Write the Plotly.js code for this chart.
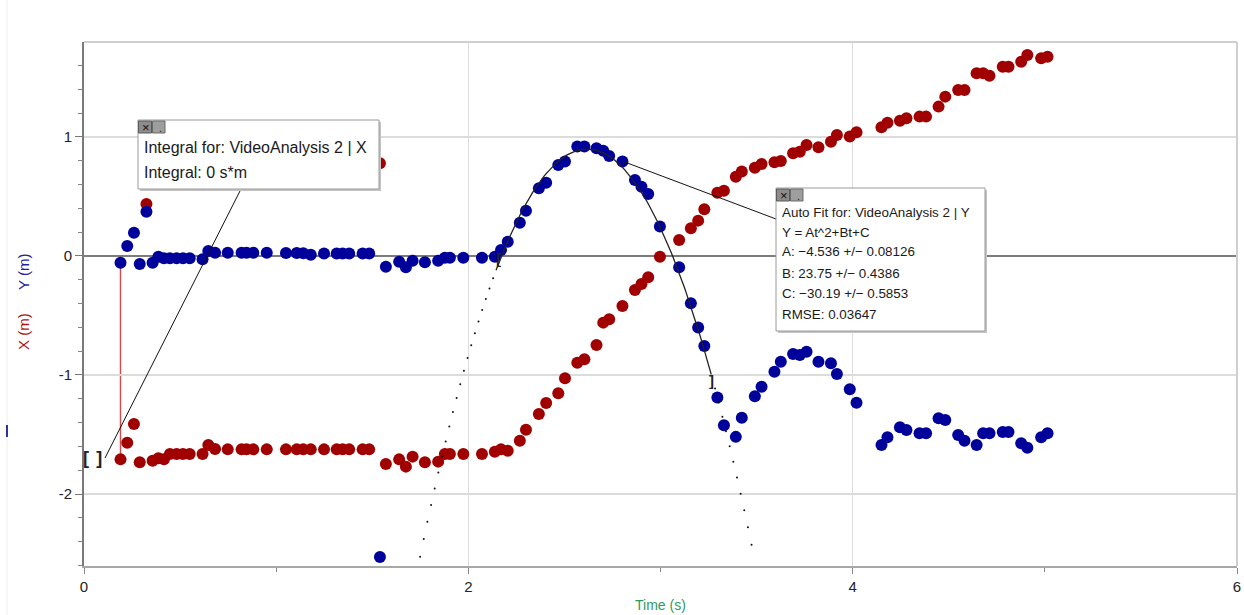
<!DOCTYPE html>
<html>
<head>
<meta charset="utf-8">
<script src="https://cdn.plot.ly/plotly-3.0.1.min.js"></script>
<style>
  html, body { margin: 0; padding: 0; background: #fff; }
  #chart { width: 1244px; height: 615px; }
</style>
</head>
<body>
<div id="chart"></div>
<script>
// ---- Data ----
const timeS = [0.19, 0.225, 0.26, 0.29, 0.325, 0.357, 0.387, 0.416, 0.447, 0.482, 0.515, 0.55, 0.617, 0.647, 0.682, 0.748, 0.82, 0.846, 0.881, 0.951, 1.051, 1.107, 1.141, 1.18, 1.249, 1.315, 1.346, 1.38, 1.45, 1.484, 1.54, 1.571, 1.64, 1.675, 1.71, 1.774, 1.843, 1.878, 1.904, 1.974, 2.071, 2.138, 2.17, 2.205, 2.268, 2.3, 2.367, 2.405, 2.468, 2.503, 2.567, 2.604, 2.667, 2.702, 2.733, 2.802, 2.867, 2.901, 2.936, 2.997, 3.097, 3.158, 3.196, 3.228, 3.296, 3.33, 3.392, 3.423, 3.491, 3.526, 3.593, 3.626, 3.69, 3.725, 3.76, 3.822, 3.887, 3.918, 3.985, 4.02, 4.15, 4.181, 4.246, 4.28, 4.348, 4.382, 4.447, 4.482, 4.549, 4.582, 4.645, 4.679, 4.712, 4.781, 4.811, 4.877, 4.909, 4.981, 5.014];

const xMeters = [-1.709, -1.569, -1.412, -1.734, 0.437, -1.72, -1.70, -1.709, -1.664, -1.664, -1.664, -1.664, -1.664, -1.588, -1.622, -1.625, -1.625, -1.625, -1.625, -1.625, -1.625, -1.625, -1.625, -1.625, -1.625, -1.625, -1.625, -1.625, -1.625, -1.625, 0.78, -1.748, -1.709, -1.77, -1.686, -1.734, -1.728, -1.664, -1.664, -1.664, -1.664, -1.645, -1.625, -1.636, -1.552, -1.46, -1.328, -1.236, -1.154, -1.028, -0.897, -0.868, -0.748, -0.56, -0.532, -0.42, -0.286, -0.235, -0.179, -0.006, 0.134, 0.233, 0.297, 0.392, 0.532, 0.549, 0.666, 0.709, 0.742, 0.773, 0.787, 0.798, 0.863, 0.876, 0.933, 0.913, 0.96, 1.017, 1.003, 1.04, 1.081, 1.12, 1.137, 1.157, 1.171, 1.171, 1.255, 1.339, 1.395, 1.395, 1.535, 1.535, 1.515, 1.591, 1.591, 1.633, 1.689, 1.661, 1.675];

const yMeters = [-0.056, 0.084, 0.196, -0.067, 0.372, -0.056, -0.006, -0.02, -0.02, -0.02, -0.02, -0.02, -0.028, 0.042, 0.028, 0.028, 0.028, 0.028, 0.028, 0.028, 0.025, 0.025, 0.022, 0.01, 0.02, 0.02, 0.02, 0.02, 0.02, 0.02, -2.53, -0.09, -0.048, -0.095, -0.04, -0.053, -0.04, -0.014, -0.014, -0.014, -0.014, -0.006, 0.05, 0.12, 0.28, 0.381, 0.569, 0.616, 0.765, 0.793, 0.919, 0.919, 0.905, 0.885, 0.84, 0.793, 0.639, 0.582, 0.521, 0.247, -0.095, -0.398, -0.6, -0.756, -1.19, -1.423, -1.52, -1.359, -1.179, -1.098, -0.972, -0.888, -0.824, -0.832, -0.804, -0.888, -0.902, -0.992, -1.12, -1.233, -1.588, -1.524, -1.44, -1.462, -1.49, -1.49, -1.364, -1.378, -1.504, -1.552, -1.588, -1.49, -1.49, -1.48, -1.48, -1.574, -1.611, -1.524, -1.49];

// Auto fit parameters (Y = At^2 + Bt + C) as printed in the chart
const fitA = -4.536, fitB = 23.75, fitC = -30.19;
const fitSolidRange = [2.144, 3.265];
const fitDottedRange = [1.749, 3.487];

const xTickVals = [0, 2, 4, 6];
const xTickText = ['0', '2', '4', '6'];
const yTickVals = [-2, -1, 0, 1];
const yTickText = ['-2', '-1', '0', '1'];

const boxIntegralLines = ['Integral for: VideoAnalysis 2 | X', 'Integral: 0 s*m'];
const boxFitLines = ['Auto Fit for: VideoAnalysis 2 | Y', 'Y = At^2+Bt+C', 'A: \u22124.536 +/\u2212 0.08126', 'B: 23.75 +/\u2212 0.4386', 'C: \u221230.19 +/\u2212 0.5853', 'RMSE: 0.03647'];

// ---- Layout geometry ----
const W = 1244, H = 615;
const L = 84, R = 1237, T = 42, B = 566;
const xRange = [0, 6];
const yRange = [-2.605, 1.798];
function dx(p) { return xRange[0] + (p - L) / (R - L) * (xRange[1] - xRange[0]); }
function dy(p) { return yRange[1] - (p - T) / (B - T) * (yRange[1] - yRange[0]); }
function pxp(p) { return (p - L) / (R - L); }
function pyp(p) { return (B - p) / (B - T); }
function fitY(t) { return fitA * t * t + fitB * t + fitC; }

// fit curve samples
const solidT = [], solidY = [];
for (let t = fitSolidRange[0]; t <= fitSolidRange[1] + 1e-9; t += 0.01) { solidT.push(t); solidY.push(fitY(t)); }
const dotT = [], dotY = [];
for (let t = fitDottedRange[0]; t < fitSolidRange[0]; t += 0.019) { dotT.push(t); dotY.push(fitY(t)); }
for (let t = fitSolidRange[1] + 0.019; t <= fitDottedRange[1] + 1e-9; t += 0.019) { dotT.push(t); dotY.push(fitY(t)); }

const RED = '#a00000', BLUE = '#00009a';
const textFont = 'Liberation Sans, Arial, sans-serif';

const traces = [
  { x: timeS, y: xMeters, mode: 'markers', type: 'scatter', name: 'X',
    marker: { color: RED, size: 12 }, hoverinfo: 'skip' },
  { x: timeS, y: yMeters, mode: 'markers', type: 'scatter', name: 'Y',
    marker: { color: BLUE, size: 12 }, hoverinfo: 'skip' },
  { x: dotT, y: dotY, mode: 'markers', type: 'scatter', name: 'fit ext',
    marker: { color: '#111', size: 2 }, hoverinfo: 'skip' },
  { x: solidT, y: solidY, mode: 'lines', type: 'scatter', name: 'fit',
    line: { color: '#222', width: 1.3 }, hoverinfo: 'skip' }
];

const shapes = [];
// top and right frame
shapes.push({ type: 'line', xref: 'paper', yref: 'paper', x0: 0, x1: 1, y0: 1, y1: 1, line: { color: '#cfcfcf', width: 2 } });
shapes.push({ type: 'line', xref: 'paper', yref: 'paper', x0: 1, x1: 1, y0: 0, y1: 1, line: { color: '#cfcfcf', width: 2 } });
// faint outer left border
shapes.push({ type: 'line', xref: 'paper', yref: 'paper', x0: pxp(7), x1: pxp(7), y0: pyp(0), y1: pyp(615), line: { color: '#eeeeee', width: 1 } });
// small blue mark at far left
shapes.push({ type: 'line', xref: 'paper', yref: 'paper', x0: pxp(7), x1: pxp(7), y0: pyp(425), y1: pyp(437), line: { color: '#3030a0', width: 2 } });
// integral line at first sample
shapes.push({ type: 'line', xref: 'x', yref: 'y', x0: timeS[0], x1: timeS[0], y0: 0, y1: xMeters[0], line: { color: '#c85050', width: 1.5 }, layer: 'below' });
// leader lines
shapes.push({ type: 'line', xref: 'x', yref: 'y', x0: dx(105), y0: dy(458), x1: dx(241), y1: dy(189), line: { color: '#111', width: 1 } });
shapes.push({ type: 'line', xref: 'x', yref: 'y', x0: dx(622), y0: dy(161), x1: dx(776), y1: dy(219), line: { color: '#111', width: 1 } });

function box(x0, y0, x1, y1) {
  shapes.push({ type: 'rect', xref: 'x', yref: 'y', x0: dx(x0 + 2), y0: dy(y0 + 2), x1: dx(x1 + 2), y1: dy(y1 + 2), fillcolor: '#c4c4c4', line: { width: 0 } });
  shapes.push({ type: 'rect', xref: 'x', yref: 'y', x0: dx(x0), y0: dy(y0), x1: dx(x1), y1: dy(y1), fillcolor: '#ffffff', line: { color: '#9a9a9a', width: 1 } });
  shapes.push({ type: 'rect', xref: 'x', yref: 'y', x0: dx(x0 + 0.5), y0: dy(y0 + 1), x1: dx(x0 + 13.5), y1: dy(y0 + 13), fillcolor: '#8c8c8c', line: { color: '#5a5a5a', width: 1 } });
  shapes.push({ type: 'rect', xref: 'x', yref: 'y', x0: dx(x0 + 14.5), y0: dy(y0 + 1), x1: dx(x0 + 27), y1: dy(y0 + 13), fillcolor: '#9e9e9e', line: { color: '#6a6a6a', width: 1 } });
}
box(138, 120, 379, 189);
box(776, 188, 985, 331);

const annotations = [];
function txt(s, xp, yp, size, color, extra) {
  annotations.push(Object.assign({ text: s, x: pxp(xp), y: pyp(yp), xref: 'paper', yref: 'paper', xanchor: 'left', yanchor: 'middle', showarrow: false,
    font: { family: textFont, size: size, color: color } }, extra || {}));
}
// button glyphs
txt('\u00d7', 140, 127, 13, '#111');
txt('.', 157, 128, 11, '#222');
txt('\u00d7', 778, 195, 13, '#111');
txt('.', 795, 196, 11, '#222');

txt(boxIntegralLines[0], 142, 147, 16, '#1a1a1a');
txt(boxIntegralLines[1], 142, 172, 16, '#1a1a1a');
const fitYs = [212, 232, 252, 273, 293.5, 314.5];
boxFitLines.forEach((s, i) => txt(s, 780, fitYs[i], 13.4, '#1a1a1a'));

// fit brackets and integral brackets
txt('<b>[</b>', 494, 258, 15, '#222');
txt('<b>]</b>', 707, 380, 15, '#222');
txt('<b>[\u2009\u2009]</b>', 81, 458, 18, '#222');

// axis titles
annotations.push({ text: 'Y (m)', xref: 'paper', yref: 'paper', x: pxp(23), y: pyp(272), xanchor: 'center', yanchor: 'middle', textangle: -90, showarrow: false, font: { family: textFont, size: 15, color: '#1f1fa0' } });
annotations.push({ text: 'X (m)', xref: 'paper', yref: 'paper', x: pxp(23), y: pyp(332), xanchor: 'center', yanchor: 'middle', textangle: -90, showarrow: false, font: { family: textFont, size: 15, color: '#b01515' } });
annotations.push({ text: 'Time (s)', xref: 'paper', yref: 'paper', x: 0.5, y: pyp(605), xanchor: 'center', yanchor: 'middle', showarrow: false, font: { family: textFont, size: 14, color: '#2f9a5c' } });

const layout = {
  width: W, height: H,
  margin: { l: L, r: W - R, t: T, b: H - B, pad: 0 },
  paper_bgcolor: '#ffffff', plot_bgcolor: '#ffffff',
  showlegend: false,
  font: { family: textFont, size: 14, color: '#222' },
  xaxis: {
    range: xRange, tickvals: xTickVals, ticktext: xTickText,
    showgrid: true, gridcolor: '#dcdcdc', gridwidth: 1.5,
    zeroline: false, showline: true, linecolor: '#a8a8a8', linewidth: 2,
    ticks: 'outside', ticklen: 6, tickcolor: '#888', tickwidth: 1,
    minor: { tickvals: [1, 3, 5], ticks: 'outside', ticklen: 4, tickcolor: '#888', showgrid: false },
    tickfont: { family: textFont, size: 15, color: '#222' },
    fixedrange: true
  },
  yaxis: {
    range: yRange, tickvals: yTickVals, ticktext: yTickText,
    showgrid: true, gridcolor: '#dcdcdc', gridwidth: 1.5,
    zeroline: true, zerolinecolor: '#7c7c7c', zerolinewidth: 2,
    showline: true, linecolor: '#7a7a7a', linewidth: 2,
    ticks: 'outside', ticklen: 7, tickcolor: '#777', tickwidth: 1,
    minor: { tickmode: 'linear', tick0: 0, dtick: 0.2, ticks: 'outside', ticklen: 4, tickcolor: '#888', showgrid: false },
    tickfont: { family: textFont, size: 15, color: '#222' },
    fixedrange: true
  },
  shapes: shapes,
  annotations: annotations
};

Plotly.newPlot('chart', traces, layout, { staticPlot: true, displayModeBar: false });
</script>
</body>
</html>
